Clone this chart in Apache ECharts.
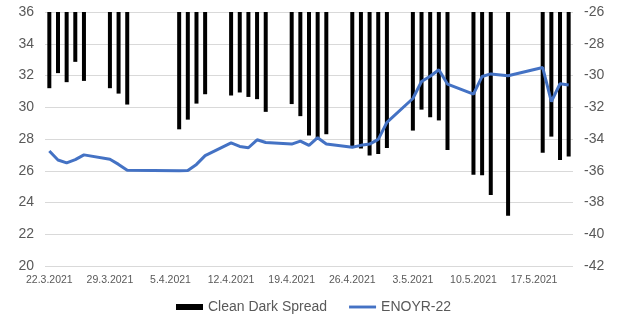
<!DOCTYPE html>
<html>
<head>
<meta charset="utf-8">
<title>Clean Dark Spread / ENOYR-22</title>
<script src="https://cdn.jsdelivr.net/npm/echarts@6/dist/echarts.min.js"></script>
<style>
  body { margin: 0; background: #fff; }
  #chart { width: 617px; height: 316px; }
</style>
</head>
<body>
<div id="chart"></div>
<script>
// trading days that have values (weekends / holidays are empty slots on the date axis)
const tradeDays = [
  '22.3.2021', '23.3.2021', '24.3.2021', '25.3.2021', '26.3.2021',
  '29.3.2021', '30.3.2021', '31.3.2021',
  '6.4.2021', '7.4.2021', '8.4.2021', '9.4.2021',
  '12.4.2021', '13.4.2021', '14.4.2021', '15.4.2021', '16.4.2021',
  '19.4.2021', '20.4.2021', '21.4.2021', '22.4.2021', '23.4.2021',
  '26.4.2021', '27.4.2021', '28.4.2021', '29.4.2021', '30.4.2021',
  '3.5.2021', '4.5.2021', '5.5.2021', '6.5.2021', '7.5.2021',
  '10.5.2021', '11.5.2021', '12.5.2021', '14.5.2021',
  '18.5.2021', '19.5.2021', '20.5.2021', '21.5.2021'
]

// Clean Dark Spread (right axis)
const cleanDarkSpread = [
  -30.8, -29.85, -30.42, -29.14, -30.34,
  -30.8, -31.14, -31.83,
  -33.39, -32.78, -31.77, -31.18,
  -31.26, -31.07, -31.35, -31.49, -32.29,
  -31.8, -32.56, -33.78, -34.05, -33.7,
  -34.5, -34.6, -35.04, -34.95, -34.57,
  -33.47, -32.15, -32.63, -32.83, -34.69,
  -36.25, -36.28, -37.53, -38.84,
  -34.86, -33.85, -35.32, -35.11
]

// ENOYR-22 (left axis)
const enoyr22 = [
  27.24, 26.68, 26.5, 26.7, 27.0,
  26.72, 26.4, 26.03,
  26.0, 26.02, 26.4, 26.95,
  27.75, 27.53, 27.45, 27.95, 27.78,
  27.68, 27.87, 27.6, 28.08, 27.68,
  27.48, 27.6, 27.68, 27.98, 29.05,
  30.55, 31.62, 31.95, 32.36, 31.46,
  30.83, 31.94, 32.1, 31.98,
  32.5, 30.36, 31.48, 31.4
]

const leftTicks = { min: 20, max: 36, step: 2 }
const rightTicks = { min: -42, max: -26, step: 2 }

// every calendar day from first to last trading day -> category axis behaves like a date axis
const toDate = s => {
  const [d, m, y] = s.split('.').map(Number)
  return new Date(y, m - 1, d)
}
const fmt = dt => dt.getDate() + '.' + (dt.getMonth() + 1) + '.' + dt.getFullYear()
const allDays = []
for (let dt = toDate(tradeDays[0]); dt <= toDate(tradeDays[tradeDays.length - 1]); dt.setDate(dt.getDate() + 1)) {
  allDays.push(fmt(dt))
}
const barData = allDays.map(d => {
  const i = tradeDays.indexOf(d)
  return i < 0 ? '-' : cleanDarkSpread[i]
})
const lineData = allDays.map(d => {
  const i = tradeDays.indexOf(d)
  return i < 0 ? '-' : enoyr22[i]
})

const textColor = '#595959'
const chart = echarts.init(document.getElementById('chart'))

const option = {
  animation: false,
  grid: { left: 45, right: 44, top: 12, bottom: 50 },
  legend: {
    left: 171,
    top: 295,
    itemWidth: 27,
    itemHeight: 6,
    itemGap: 22,
    textStyle: { color: textColor, fontSize: 14, fontFamily: 'Liberation Sans' },
    data: [
      { name: 'Clean Dark Spread', icon: 'rect' },
      { name: 'ENOYR-22', icon: 'path://M0,0 L28,0 L28,3 L0,3 Z' }
    ]
  },
  xAxis: {
    type: 'category',
    data: allDays,
    boundaryGap: true,
    axisLine: { show: false },
    axisTick: { show: false },
    axisLabel: {
      interval: 6,
      margin: 9,
      color: textColor,
      fontSize: 10.5,
      fontFamily: 'Liberation Sans'
    }
  },
  yAxis: [
    {
      type: 'value',
      min: leftTicks.min,
      max: leftTicks.max,
      interval: leftTicks.step,
      axisLine: { show: false },
      axisTick: { show: false },
      axisLabel: { color: textColor, fontSize: 14, margin: 11, fontFamily: 'Liberation Sans' },
      splitLine: { lineStyle: { color: '#d9d9d9', width: 1 } }
    },
    {
      type: 'value',
      position: 'right',
      min: rightTicks.min,
      max: rightTicks.max,
      interval: rightTicks.step,
      axisLine: { show: false },
      axisTick: { show: false },
      axisLabel: { color: textColor, fontSize: 14, margin: 11, fontFamily: 'Liberation Sans' },
      splitLine: { show: false }
    }
  ],
  series: [
    {
      name: 'Clean Dark Spread',
      type: 'bar',
      yAxisIndex: 1,
      barWidth: 4,
      itemStyle: { color: '#000000' },
      data: barData
    },
    {
      name: 'ENOYR-22',
      type: 'line',
      yAxisIndex: 0,
      symbol: 'none',
      connectNulls: true,
      lineStyle: { color: '#4472C4', width: 3 },
      itemStyle: { color: '#4472C4' },
      data: lineData
    }
  ]
}

chart.setOption(option)
</script>
</body>
</html>
